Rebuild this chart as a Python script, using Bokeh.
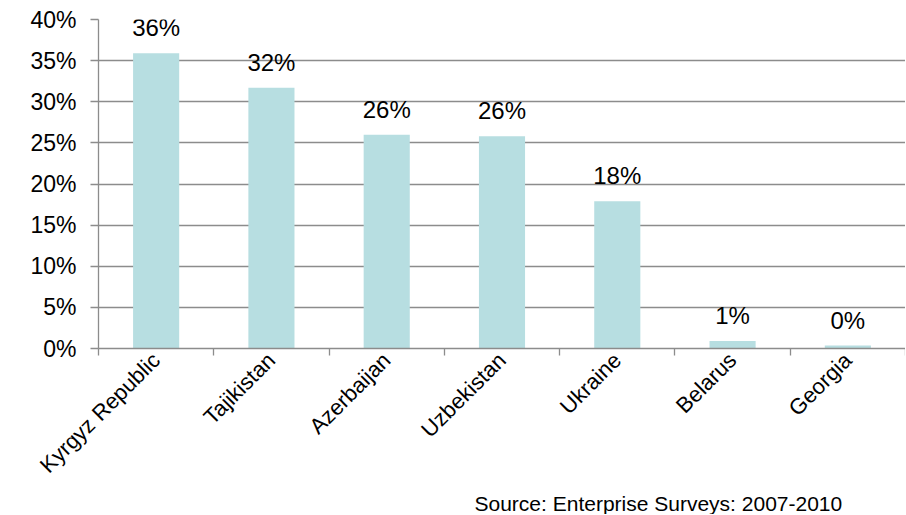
from bokeh.plotting import figure
from bokeh.models import (ColumnDataSource, Range1d, LinearAxis,
                          FixedTicker, NumeralTickFormatter, LabelSet, Title)
from bokeh.core.properties import value
from bokeh.embed import file_html
from bokeh.resources import INLINE

countries = ["Kyrgyz Republic", "Tajikistan", "Azerbaijan", "Uzbekistan", "Ukraine", "Belarus", "Georgia"]
shares = [35.9, 31.7, 26.0, 25.8, 17.9, 0.9, 0.35]
y_ticks = [0, 5, 10, 15, 20, 25, 30, 35, 40]
source_note = "Source: Enterprise Surveys: 2007-2010"

FONT = "Liberation Sans"
GRID = "#8c8c8c"
BAR = "#b7dee1"

n = len(countries)
centers = [i + 0.5 for i in range(n)]
vals = [s / 100 for s in shares]
src = ColumnDataSource(dict(
    x=centers,
    country=countries,
    value=vals,
    label=[f"{round(s)}%" for s in shares],
))

p = figure(
    x_range=Range1d(0, n),
    y_range=Range1d(0, 0.40),
    width=905, height=514,
    output_backend="svg", toolbar_location=None,
    x_axis_location=None,
    min_border_left=98, min_border_right=0, min_border_top=19, min_border_bottom=0,
)
p.outline_line_color = None
p.background_fill_color = "white"
p.xgrid.visible = False

p.vbar(x="x", top="value", width=0.4, source=src, color=BAR, line_color=None)

labels = LabelSet(x="x", y="value", text="label", source=src,
                  text_align="center", text_baseline="bottom", y_offset=12,
                  text_font=value(FONT), text_font_size="24px", text_color="#000000")
p.add_layout(labels)

# y axis
ya = p.yaxis[0]
ya.ticker = FixedTicker(ticks=[t / 100 for t in y_ticks])
ya.formatter = NumeralTickFormatter(format="0%")
ya.axis_line_color = GRID
ya.axis_line_width = 1.3
ya.major_tick_line_color = GRID
ya.major_tick_line_width = 1.3
ya.major_tick_in = 0
ya.major_tick_out = 8
ya.minor_tick_line_color = None
ya.major_label_standoff = 14
ya.major_label_text_font = FONT
ya.major_label_text_font_size = "23px"
ya.major_label_text_color = "#000000"

p.ygrid.grid_line_color = GRID
p.ygrid.grid_line_width = 1.3
p.ygrid.ticker = FixedTicker(ticks=[t / 100 for t in y_ticks])

# x axis: labels at category centres, short ticks at category boundaries
cat_axis = LinearAxis(ticker=FixedTicker(ticks=centers, minor_ticks=list(range(n + 1))),
                      major_label_overrides={c: name for c, name in zip(centers, countries)})
cat_axis.axis_line_color = GRID
cat_axis.axis_line_width = 1.3
cat_axis.major_tick_line_color = None
cat_axis.major_tick_in = 0
cat_axis.major_tick_out = 7
cat_axis.minor_tick_line_color = GRID
cat_axis.minor_tick_line_width = 1.3
cat_axis.minor_tick_in = 0
cat_axis.minor_tick_out = 7
cat_axis.major_label_orientation = 0.785398
cat_axis.major_label_standoff = 1
cat_axis.major_label_text_font = FONT
cat_axis.major_label_text_font_size = "22px"
cat_axis.major_label_text_color = "#000000"
p.add_layout(cat_axis, "below")

note = Title(text=source_note, align="left", offset=376, standoff=0,
             text_font=FONT, text_font_size="21px", text_font_style="normal",
             text_color="#000000")
p.add_layout(note, "below")

open("out.html", "w").write(file_html(p, INLINE))
